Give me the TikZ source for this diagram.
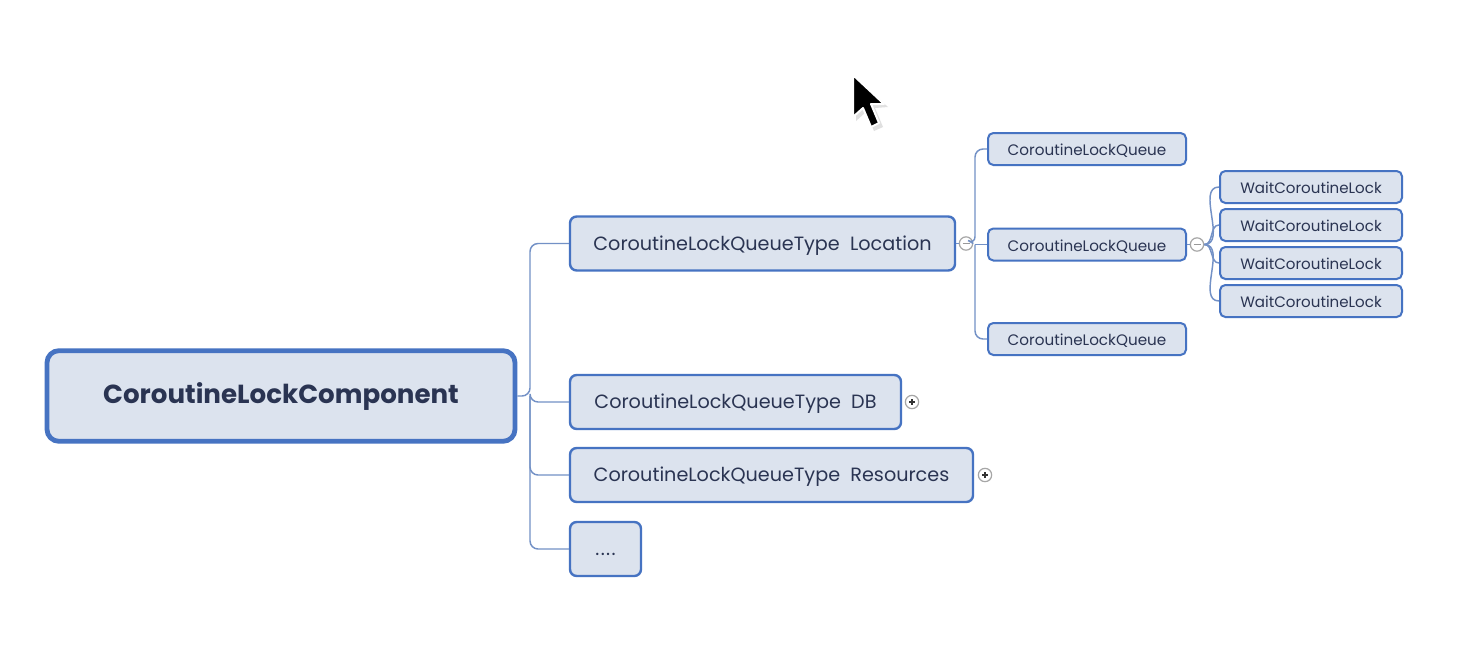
\documentclass[tikz,border=0pt]{standalone}
\usepackage{fontspec}
\usepackage{xcolor}
\usepackage{tikz}
\usetikzlibrary{positioning,calc}
\newfontfamily\mapfont{Poppins}

\definecolor{boxfill}{HTML}{DCE3EE}
\definecolor{boxline}{HTML}{4673C2}
\definecolor{connline}{HTML}{7391C6}
\definecolor{boxtext}{HTML}{2A3452}

\begin{document}
\begin{tikzpicture}[x=0.75pt,y=0.75pt,yscale=-1,xscale=1,
  every node/.style={font=\mapfont, text=boxtext},
  rootbox/.style={draw=boxline, fill=boxfill, line width=3.6pt, rounded corners=9pt,
    minimum width=351pt, minimum height=68pt, text height=2.6ex, text depth=0pt,
    font=\mapfont\bfseries\fontsize{19.6}{21}\selectfont},
  typebox/.style={draw=boxline, fill=boxfill, line width=1.8pt, rounded corners=5pt,
    minimum height=40.5pt, text height=2.4ex, text depth=0pt,
    font=\mapfont\fontsize{14.4}{16}\selectfont},
  queuebox/.style={draw=boxline, fill=boxfill, line width=1.5pt, rounded corners=4pt,
    minimum width=148.5pt, minimum height=24pt, text height=2.3ex, text depth=0pt,
    font=\mapfont\fontsize{11.4}{13}\selectfont},
  waitbox/.style={draw=boxline, fill=boxfill, line width=1.5pt, rounded corners=4pt,
    minimum width=136.5pt, minimum height=24pt, text height=2.3ex, text depth=0pt,
    font=\mapfont\fontsize{11.3}{13}\selectfont},
  conn/.style={draw=connline, line width=1.1pt, rounded corners=6pt},
  toggle/.style={circle, draw=gray!70, line width=0.9pt, fill=white, inner sep=0pt, minimum size=10pt}
]
\useasboundingbox (0,0) rectangle (1478,646);
\fill[white] (0,0) rectangle (1478,646);

%root
\node[rootbox] (root) at (281,396) {CoroutineLockComponent};

%queue types
\node[typebox, minimum width=288.75pt] (loc) at (762.5,243.5) {CoroutineLockQueueType\ \ Location};
\node[typebox, minimum width=248.25pt] (db) at (735.5,402) {CoroutineLockQueueType\ \ DB};
\node[typebox, minimum width=302.25pt] (res) at (771.5,475) {CoroutineLockQueueType\ \ Resources};
\node[typebox, minimum width=53.25pt] (more) at (605.5,549) {.\kern1pt.\kern1pt.\kern1pt.};

%queues
\node[queuebox] (qa) at (1087,149) {CoroutineLockQueue};
\node[queuebox] (qb) at (1087,244.5) {CoroutineLockQueue};
\node[queuebox] (qc) at (1087,339) {CoroutineLockQueue};

%wait locks
\node[waitbox] (wa) at (1311,187) {WaitCoroutineLock};
\node[waitbox] (wb) at (1311,225) {WaitCoroutineLock};
\node[waitbox] (wc) at (1311,263) {WaitCoroutineLock};
\node[waitbox] (wd) at (1311,301) {WaitCoroutineLock};

%toggles
\node[toggle] (locknob) at (966,243.5) {};
\node[toggle] (qknob) at (1197,244.5) {};
\node[toggle] (dbknob) at (912,402) {};
\node[toggle] (resknob) at (985,475) {};
\draw[gray!80, line width=0.8pt] ($(locknob)+(-3.5,0)$) -- ($(locknob)+(3.5,0)$);
\draw[gray!80, line width=0.8pt] ($(qknob)+(-3.5,0)$) -- ($(qknob)+(3.5,0)$);
\foreach \k in {dbknob,resknob} {
  \draw[black!80, line width=0.8pt] ($(\k)+(-3,0)$) -- ($(\k)+(3,0)$);
  \draw[black!80, line width=0.8pt] ($(\k)+(0,-3)$) -- ($(\k)+(0,3)$);
}

%connectors
\coordinate (spine) at (530,396);
\draw[conn] (root.east) -- (spine) |- (loc.west);
\draw[conn] (spine) |- (db.west);
\draw[conn] (spine) |- (res.west);
\draw[conn] (spine) |- (more.west);

\draw[conn] (loc.east) -- (locknob.west);
\coordinate (qspine) at (975,244.5);
\draw[conn] (locknob.east) -- (qspine) |- (qa.west);
\draw[conn] (qspine) -- (qb.west);
\draw[conn] (qspine) |- (qc.west);

\draw[conn] (qb.east) -- (qknob.west);
\foreach \w in {wa,wb,wc,wd}
  \draw[conn] (qknob.east) to[out=0,in=180] (\w.west);

%mouse pointer
\fill[black!12] (856,79) -- (856,121) -- (866,112) -- (874,131) -- (883,127) -- (875,108) -- (888,107) -- cycle;
\filldraw[fill=black, draw=white, line width=1.5pt, line join=round]
  (853,75) -- (853,117) -- (863,108) -- (871,127) -- (879,123) -- (871,104) -- (884,104) -- cycle;
\end{tikzpicture}
\end{document}
